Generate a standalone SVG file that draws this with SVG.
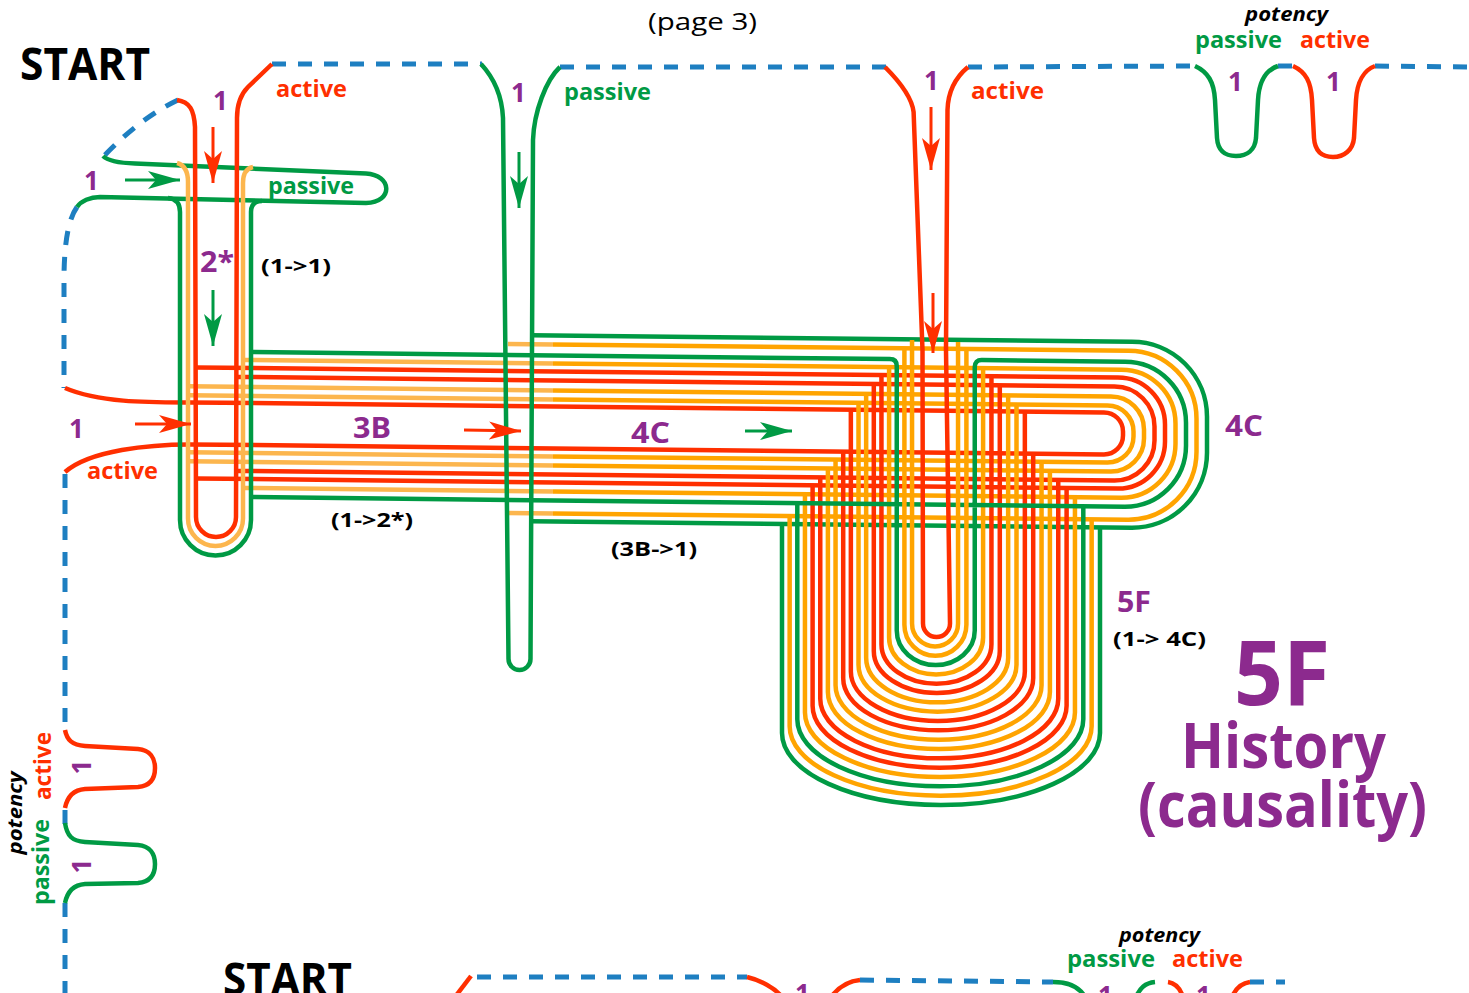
<svg xmlns="http://www.w3.org/2000/svg" width="1469" height="993" viewBox="0 0 1469 993">
<style>
.ln{fill:none;stroke-width:4.5;stroke-linecap:butt;stroke-linejoin:round}
.g{stroke:#009a44}.r{stroke:#ff2f00}.o{stroke:#ffa400}.lo{stroke:#fcb64e}
.d{fill:none;stroke:#1e7fc1;stroke-width:5;stroke-dasharray:14 12}
.ar{fill:none;stroke-width:3}
text{font-family:"Open Sans","Liberation Sans",sans-serif;font-weight:700}
.pu{fill:#8c2a8e}.gt{fill:#009a44}.rt{fill:#ff2f00}.bk{fill:#000}
.it{font-style:italic}
</style>
<defs>
<marker id="ar" markerUnits="userSpaceOnUse" markerWidth="34" markerHeight="20" refX="32" refY="10" orient="auto"><path d="M0,1 L32,10 L0,19 L8,10 Z" fill="#ff2f00"/></marker>
<marker id="ag" markerUnits="userSpaceOnUse" markerWidth="34" markerHeight="20" refX="32" refY="10" orient="auto"><path d="M0,1 L32,10 L0,19 L8,10 Z" fill="#009a44"/></marker>
</defs>
<rect width="1469" height="993" fill="#fff"/>

<g id="frame">
<path class="d" d="M178,100 Q140,118 103,157"/>
<path class="d" d="M77,207 Q64,225 64,280 L64,388"/>
<path class="d" d="M65,474 L65,730"/>
<path class="d" d="M65,810 L65,825"/>
<path class="d" d="M65,903 L65,993"/>
<path class="d" d="M272,64 L482,64"/>
<path class="d" d="M560,67 L886,67"/>
<path class="d" d="M968,67 L1196,66"/>
<path class="d" d="M1278,66 L1294,66"/>
<path class="d" d="M1375,66 L1469,67"/>
</g>

<g id="bundle-4C">
<path class="ln lo" d="M508,343.89 L553,344.38 M553,513.38 L508,512.89"/>
<path class="ln lo" d="M244,359.98 L553,363.38 M553,491.38 L244,487.98"/>
<path class="ln lo" d="M188,386.37 L553,390.38 M553,465.38 L188,461.37"/>
<path class="ln lo" d="M188,395.37 L553,399.38 M553,456.38 L188,452.37"/>
<path class="ln g" d="M531,335.14 L1132,341.75 A75,75 0 0 1 1207,416.75 L1207,452.75 A75,75 0 0 1 1132,527.75 L531,521.14"/>
<path class="ln o" d="M553,344.38 L1128.5,350.71 A68,68 0 0 1 1196.5,418.71 L1196.5,451.71 A68,68 0 0 1 1128.5,519.71 L553,513.38"/>
<path class="ln o" d="M553,363.38 L1121.5,369.64 A54,54 0 0 1 1175.5,423.64 L1175.5,443.64 A54,54 0 0 1 1121.5,497.64 L553,491.38"/>
<path class="ln r" d="M196,367.46 L1118,377.6 A47,47 0 0 1 1165,424.6 L1165,441.6 A47,47 0 0 1 1118,488.6 L196,478.46"/>
<path class="ln r" d="M236,376.9 L1114.5,386.56 A40,40 0 0 1 1154.5,426.56 L1154.5,440.56 A40,40 0 0 1 1114.5,480.56 L236,470.9"/>
<path class="ln o" d="M553,390.38 L1111,396.52 A33,33 0 0 1 1144,429.52 L1144,438.52 A33,33 0 0 1 1111,471.52 L553,465.38"/>
<path class="ln o" d="M553,399.38 L1107.5,405.48 A26,26 0 0 1 1133.5,431.48 L1133.5,436.48 A26,26 0 0 1 1107.5,462.48 L553,456.38"/>
<path class="ln r" d="M65,388 C100,403 150,402.4 190,402.39 L1104,412.44 A19,19 0 0 1 1123,431.44 L1123,435.44 A19,19 0 0 1 1104,454.44 L190,444.39 C150,444.4 90,450 65,472"/>
</g>

<g id="u-5F">
<path class="ln g" d="M782,523.9 L782,733 A159,72 0 0 0 1100,733 L1100,527.4"/>
<path class="ln o" d="M789.65,515.99 L789.65,726.17 A151,69.5 0 0 0 1091.65,726.17 L1091.65,519.31"/>
<path class="ln g" d="M797.3,503.07 L797.3,719.34 A143,67 0 0 0 1083.3,719.34 L1083.3,506.22"/>
<path class="ln o" d="M804.95,494.15 L804.95,712.51 A135,64.5 0 0 0 1074.95,712.51 L1074.95,497.12"/>
<path class="ln r" d="M812.6,485.24 L812.6,705.68 A127,62 0 0 0 1066.6,705.68 L1066.6,488.03"/>
<path class="ln r" d="M820.25,477.32 L820.25,698.85 A119,59.5 0 0 0 1058.25,698.85 L1058.25,479.94"/>
<path class="ln o" d="M827.9,468.41 L827.9,692.02 A111,57 0 0 0 1049.9,692.02 L1049.9,470.85"/>
<path class="ln o" d="M835.55,459.49 L835.55,685.19 A103,54.5 0 0 0 1041.55,685.19 L1041.55,461.76"/>
<path class="ln r" d="M843.2,451.58 L843.2,678.36 A95,52 0 0 0 1033.2,678.36 L1033.2,453.67"/>
<path class="ln r" d="M850.85,409.66 L850.85,671.53 A87,49.5 0 0 0 1024.85,671.53 L1024.85,411.58"/>
<path class="ln o" d="M858.5,402.74 L858.5,664.7 A79,47 0 0 0 1016.5,664.7 L1016.5,404.48"/>
<path class="ln o" d="M866.15,393.83 L866.15,657.87 A71,44.5 0 0 0 1008.15,657.87 L1008.15,395.39"/>
<path class="ln r" d="M873.8,383.91 L873.8,651.04 A63,42 0 0 0 999.8,651.04 L999.8,385.3"/>
<path class="ln r" d="M881.45,375 L881.45,644.21 A55,39.5 0 0 0 991.45,644.21 L991.45,376.21"/>
<path class="ln o" d="M889.1,367.08 L889.1,637.38 A47,37 0 0 0 983.1,637.38 L983.1,368.12"/>
<path class="ln g" d="M251,352.06 L889.75,359.09 Q896.75,359.16 896.75,366 L896.75,630.55 A39,34.5 0 0 0 974.75,630.55 L974.75,367 Q974.75,360.02 981.75,360.09 L1125,361.68 A61,61 0 0 1 1186,422.68 L1186,445.68 A61,61 0 0 1 1125,506.68 L251,497.06"/>
<path class="ln o" d="M904.4,348.25 L904.4,624.72 A31,31 0 0 0 966.4,624.72 L966.4,348.93"/>
<path class="ln o" d="M912.05,340 L912.05,623.39 A23,23 0 0 0 958.05,623.39 L958.05,342"/>
</g>

<g id="col-2star">
<path class="ln g" d="M103,156 C108,161 118,163 135,163.5 L366,173.5 C392,175 394,202 366,203 L100,197 C90,197 81,201 77,207"/>
<path class="ln lo" d="M177,163 Q188,166 188,182 L188,518.5 A27.5,27.5 0 0 0 243,518.5 L243,183 Q243,169 253,167"/>
<path class="ln r" d="M177,100 C190,102 194,110 195,127 L196,517 A20,20 0 0 0 236,517 L237,118 C237,104 240,95 248,87 L272,64"/>
<path class="ln g" d="M168,198 Q180,199 180,212 L180,520 A35.5,35.5 0 0 0 251,520 L251,212 Q251,201 262,201"/>
</g>

<g id="col-mid">
<path class="ln g" d="M481,64 C494,78 502,96 503,118 L508.5,659 A11,11 0 0 0 530.5,659 L533,140 C534,112 546,80 560,67"/>
</g>

<g id="col-red">
<path class="ln r" d="M885,67 C900,82 912,98 913.6,112 L922.5,350 L923,623.5 A13.5,13.5 0 0 0 950,623.5 L946,350 L947.5,110 C948,92 956,77 968,67"/>
</g>

<g id="potency-top">
<path class="ln g" d="M1195,66 C1208,72 1214,82 1215,100 L1217,138 C1218,152 1226,156 1236,156 C1247,156 1255,150 1256,138 L1258,100 C1259,82 1266,70 1278,66"/>
<path class="ln r" d="M1293,66 C1306,72 1311,82 1312,100 L1314,138 C1315,152 1323,157 1333,157 C1344,157 1353,150 1354,138 L1356,100 C1357,82 1364,70 1375,66"/>
<text class="it bk" x="1245" y="21" font-size="20" textLength="83" lengthAdjust="spacingAndGlyphs">potency</text>
<text class="gt" x="1195" y="48" font-size="24" textLength="87" lengthAdjust="spacingAndGlyphs">passive</text>
<text class="rt" x="1300" y="48" font-size="24" textLength="70" lengthAdjust="spacingAndGlyphs">active</text>
<text class="pu" x="1228" y="91" font-size="26">1</text>
<text class="pu" x="1326" y="91" font-size="26">1</text>
</g>

<g id="potency-left">
<path class="ln r" d="M65,730 C67,740 72,745 85,746 L138,749 C150,750 155,758 155,768 C155,779 150,786 138,787 L85,789 C72,790 67,798 65,808"/>
<path class="ln g" d="M65,823 C67,836 72,841 85,842 L138,845 C150,846 155,854 155,864 C155,875 150,882 138,883 L85,884 C72,885 67,893 65,903"/>
<text class="rt" transform="translate(51,766) rotate(-90)" text-anchor="middle" font-size="24" textLength="68" lengthAdjust="spacingAndGlyphs">active</text>
<text class="gt" transform="translate(49,862) rotate(-90)" text-anchor="middle" font-size="24" textLength="86" lengthAdjust="spacingAndGlyphs">passive</text>
<text class="it bk" transform="translate(22,813) rotate(-90)" text-anchor="middle" font-size="20" textLength="83" lengthAdjust="spacingAndGlyphs">potency</text>
<text class="pu" transform="translate(91,767) rotate(-90)" text-anchor="middle" font-size="26">1</text>
<text class="pu" transform="translate(91,866) rotate(-90)" text-anchor="middle" font-size="26">1</text>
</g>

<g id="bottom">
<path class="d" d="M477,977 L747,977"/>
<path class="ln r" d="M471,976 L455,997"/>
<path class="ln r" d="M747,977 C760,980 775,988 782,997"/>
<path class="ln r" d="M831,997 C838,988 848,981 860,980"/>
<path class="d" d="M860,980 L1053,982"/>
<path class="ln g" d="M1053,982 C1070,982 1080,988 1085,997"/>
<path class="ln g" d="M1136,997 C1140,988 1145,983 1155,982"/>
<path class="ln r" d="M1168,982 C1175,983 1180,988 1183,997"/>
<path class="ln r" d="M1232,997 C1236,988 1242,983 1250,982"/>
<path class="d" d="M1250,982 L1285,982"/>
<text class="bk" x="223" y="995" font-size="45" textLength="129" lengthAdjust="spacingAndGlyphs">START</text>
<text class="it bk" x="1119" y="942" font-size="20" textLength="81" lengthAdjust="spacingAndGlyphs">potency</text>
<text class="gt" x="1067" y="967" font-size="24" textLength="88" lengthAdjust="spacingAndGlyphs">passive</text>
<text class="rt" x="1172" y="967" font-size="24" textLength="71" lengthAdjust="spacingAndGlyphs">active</text>
<text class="pu" x="795" y="1003" font-size="26">1</text>
<text class="pu" x="1098" y="1005" font-size="26">1</text>
<text class="pu" x="1196" y="1005" font-size="26">1</text>
</g>

<g id="connectors">
<path class="ar r" d="M213,127 L213,183" marker-end="url(#ar)"/>
<path class="ar g" d="M125,180 L180,180" marker-end="url(#ag)"/>
<path class="ar g" d="M213,290 L213,346" marker-end="url(#ag)"/>
<path class="ar r" d="M135,424 L191,424" marker-end="url(#ar)"/>
<path class="ar r" d="M464,430 L521,431" marker-end="url(#ar)"/>
<path class="ar g" d="M745,431 L792,431" marker-end="url(#ag)"/>
<path class="ar g" d="M519,152 L519,208" marker-end="url(#ag)"/>
<path class="ar r" d="M931,107 L931,170" marker-end="url(#ar)"/>
<path class="ar r" d="M933,293 L933,353" marker-end="url(#ar)"/>
</g>

<g id="labels">
<text class="bk" x="648" y="30" font-size="24" font-weight="400" style="font-weight:400" textLength="109" lengthAdjust="spacingAndGlyphs">(page 3)</text>
<text class="bk" x="20" y="80" font-size="45" textLength="130" lengthAdjust="spacingAndGlyphs">START</text>
<text class="rt" x="276" y="97" font-size="24" textLength="71" lengthAdjust="spacingAndGlyphs">active</text>
<text class="pu" x="213" y="110" font-size="26">1</text>
<text class="pu" x="84" y="190" font-size="26">1</text>
<text class="gt" x="268" y="194" font-size="24" textLength="86" lengthAdjust="spacingAndGlyphs">passive</text>
<text class="pu" x="200" y="272" font-size="28" textLength="34" lengthAdjust="spacingAndGlyphs">2*</text>
<text class="bk" x="261" y="273" font-size="20" textLength="70" lengthAdjust="spacingAndGlyphs">(1-&gt;1)</text>
<text class="pu" x="69" y="438" font-size="26">1</text>
<text class="pu" x="353" y="438" font-size="28" textLength="38" lengthAdjust="spacingAndGlyphs">3B</text>
<text class="rt" x="87" y="479" font-size="24" textLength="71" lengthAdjust="spacingAndGlyphs">active</text>
<text class="bk" x="331" y="527" font-size="20" textLength="82" lengthAdjust="spacingAndGlyphs">(1-&gt;2*)</text>
<text class="pu" x="631" y="443" font-size="28" textLength="39" lengthAdjust="spacingAndGlyphs">4C</text>
<text class="bk" x="611" y="556" font-size="20" textLength="86" lengthAdjust="spacingAndGlyphs">(3B-&gt;1)</text>
<text class="pu" x="511" y="102" font-size="26">1</text>
<text class="gt" x="564" y="100" font-size="24" textLength="87" lengthAdjust="spacingAndGlyphs">passive</text>
<text class="pu" x="924" y="90" font-size="26">1</text>
<text class="rt" x="971" y="99" font-size="24" textLength="73" lengthAdjust="spacingAndGlyphs">active</text>
<text class="pu" x="1225" y="436" font-size="28" textLength="38" lengthAdjust="spacingAndGlyphs">4C</text>
<text class="pu" x="1117" y="612" font-size="28" textLength="34" lengthAdjust="spacingAndGlyphs">5F</text>
<text class="bk" x="1113" y="646" font-size="20" textLength="93" lengthAdjust="spacingAndGlyphs">(1-&gt; 4C)</text>
<text class="pu" x="1234" y="705" font-size="90" textLength="96" lengthAdjust="spacingAndGlyphs">5F</text>
<text class="pu" x="1181" y="768" font-size="62" textLength="205" lengthAdjust="spacingAndGlyphs">History</text>
<text class="pu" x="1138" y="827" font-size="62" textLength="289" lengthAdjust="spacingAndGlyphs">(causality)</text>
</g>
</svg>
